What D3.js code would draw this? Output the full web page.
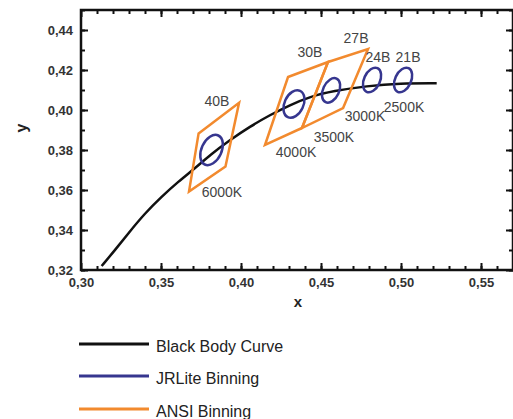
<!DOCTYPE html>
<html><head><meta charset="utf-8">
<script src="https://cdn.jsdelivr.net/npm/d3@7"></script>
<style>
html,body{margin:0;padding:0;background:#fff;}
svg{display:block;font-family:"Liberation Sans",Arial,sans-serif;}
</style></head>
<body>
<svg id="chart" width="513" height="419"></svg>
<script>
// Black body curve
const bbX = [0.3129, 0.3213, 0.3296, 0.3400, 0.3504, 0.3608, 0.3713, 0.3806, 0.3931, 0.4056, 0.4181, 0.4306, 0.4431, 0.4577, 0.4786, 0.4994, 0.5223];
const bbY = [0.3220, 0.3300, 0.3384, 0.3484, 0.3567, 0.3642, 0.3709, 0.3775, 0.3850, 0.3917, 0.3975, 0.4025, 0.4067, 0.4095, 0.4120, 0.4134, 0.4134];

// JRLite binning ellipses (center, semi-axes, tilt)
const jrCx = [0.3816, 0.4331, 0.4563, 0.4819, 0.5013];
const jrCy = [0.3800, 0.4030, 0.4098, 0.4150, 0.4150];
const jrRx = [0.00625, 0.0059, 0.0050, 0.0050, 0.0050];
const jrRy = [0.0080, 0.00725, 0.0065, 0.0065, 0.0065];
const jrTilt = [25, 25, 25, 25, 25];

// ANSI binning quadrangles (TL, TR, BR, BL)
const ansiBins = ["40B", "30B", "27B"];
const ansiX = [[0.3735, 0.3988, 0.3903, 0.3675],
               [0.4294, 0.4544, 0.4381, 0.4150],
               [0.4544, 0.4794, 0.4638, 0.4381]];
const ansiY = [[0.3883, 0.4036, 0.3717, 0.3592],
               [0.4165, 0.4240, 0.3910, 0.3825],
               [0.4240, 0.4305, 0.4010, 0.3910]];

// Annotations
const annText = ["40B", "6000K", "30B", "27B", "24B", "21B", "2500K", "3000K", "3500K", "4000K"];
const annX = [0.3850, 0.3881, 0.4431, 0.4719, 0.4856, 0.5044, 0.5019, 0.4775, 0.4581, 0.4344];
const annY = [0.4020, 0.3565, 0.4265, 0.4335, 0.4240, 0.4240, 0.3990, 0.3945, 0.3840, 0.3765];

// Ticks
const xTicks = [0.30, 0.35, 0.40, 0.45, 0.50, 0.55];
const yTicks = [0.32, 0.34, 0.36, 0.38, 0.40, 0.42, 0.44];
const xMinor = d3.range(31, 57).map(v => v / 100);
const yMinor = d3.range(32, 46).map(v => v / 100);

const legendLabels = ["Black Body Curve", "JRLite Binning", "ANSI Binning"];
const colors = ["#111111", "#36368f", "#f28a2e"];

const svg = d3.select("#chart");
const L = 81, R = 513, T = 10, B = 270;
const x = d3.scaleLinear().domain([0.30, 0.57]).range([L, R]);
const y = d3.scaleLinear().domain([0.32, 0.45]).range([B, T]);
const fmt = d => d.toFixed(2).replace(".", ",");

// minor ticks
function minor(axis, tr) {
  svg.append("g").attr("transform", tr).call(axis)
    .call(g => g.select(".domain").remove())
    .call(g => g.selectAll("text").remove())
    .call(g => g.selectAll("line").attr("stroke", "#111").attr("stroke-width", 2));
}
minor(d3.axisBottom(x).tickValues(xMinor).tickSize(-4), `translate(0,${B})`);
minor(d3.axisTop(x).tickValues(xMinor).tickSize(-4), `translate(0,${T})`);
minor(d3.axisLeft(y).tickValues(yMinor).tickSize(-4), `translate(${L},0)`);
minor(d3.axisRight(y).tickValues(yMinor).tickSize(-4), `translate(${R},0)`);

function major(axis, tr, labels) {
  const g = svg.append("g").attr("transform", tr).call(axis);
  g.select(".domain").remove();
  g.selectAll("line").attr("stroke", "#111").attr("stroke-width", 2);
  if (!labels) g.selectAll("text").remove();
  else g.selectAll("text").attr("font-size", 13).attr("font-weight", "bold").attr("fill", "#333")
        .attr("font-family", "Liberation Sans, Arial, sans-serif");
  return g;
}
major(d3.axisBottom(x).tickValues(xTicks).tickSize(-7).tickPadding(8).tickFormat(fmt), `translate(0,${B})`, true);
major(d3.axisTop(x).tickValues(xTicks).tickSize(-7), `translate(0,${T})`, false);
major(d3.axisLeft(y).tickValues(yTicks).tickSize(-7).tickPadding(8).tickFormat(fmt), `translate(${L},0)`, true);
major(d3.axisRight(y).tickValues(yTicks).tickSize(-7), `translate(${R},0)`, false);

// frame
svg.append("rect").attr("x", L).attr("y", T).attr("width", R - L).attr("height", B - T)
  .attr("fill", "none").attr("stroke", "#111").attr("stroke-width", 2.5);

// axis titles
svg.append("text").attr("x", 298).attr("y", 307).attr("text-anchor", "middle")
  .attr("font-size", 15).attr("font-weight", "bold").attr("fill", "#222").text("x");
svg.append("text").attr("transform", "translate(27,128) rotate(-90)").attr("text-anchor", "middle")
  .attr("font-size", 16).attr("font-weight", "bold").attr("fill", "#222").text("y");

// black body curve
const bb = bbX.map((v, i) => [v, bbY[i]]);
svg.append("path").datum(bb)
  .attr("d", d3.line().x(d => x(d[0])).y(d => y(d[1])).curve(d3.curveBasis))
  .attr("fill", "none").attr("stroke", colors[0]).attr("stroke-width", 2.5);

// ANSI quads
ansiBins.forEach((b, i) => {
  const pts = ansiX[i].map((v, j) => [x(v), y(ansiY[i][j])]);
  svg.append("path").attr("d", "M" + pts.map(p => p.join(",")).join("L") + "Z")
    .attr("fill", "none").attr("stroke", colors[2]).attr("stroke-width", 2.5)
    .attr("stroke-linejoin", "miter");
});

// JRLite ellipses
jrCx.forEach((cx, i) => {
  const px = x(cx), py = y(jrCy[i]);
  const rx = x(cx + jrRx[i]) - px, ry = py - y(jrCy[i] + jrRy[i]);
  svg.append("ellipse").attr("cx", px).attr("cy", py).attr("rx", rx).attr("ry", ry)
    .attr("transform", `rotate(${jrTilt[i]},${px},${py})`)
    .attr("fill", "none").attr("stroke", colors[1]).attr("stroke-width", 2.5);
});

// annotations
annText.forEach((t, i) => {
  svg.append("text").attr("x", x(annX[i])).attr("y", y(annY[i])).attr("text-anchor", "middle")
    .attr("font-size", 14).attr("fill", "#444").text(t);
});

// legend
const legY = [344, 376, 409];
legendLabels.forEach((t, i) => {
  svg.append("line").attr("x1", 79).attr("x2", 149).attr("y1", legY[i]).attr("y2", legY[i])
    .attr("stroke", colors[i]).attr("stroke-width", 3);
  svg.append("text").attr("x", 156).attr("y", legY[i] + 8).attr("font-size", 16)
    .attr("fill", "#222").text(t);
});
</script>
</body></html>
